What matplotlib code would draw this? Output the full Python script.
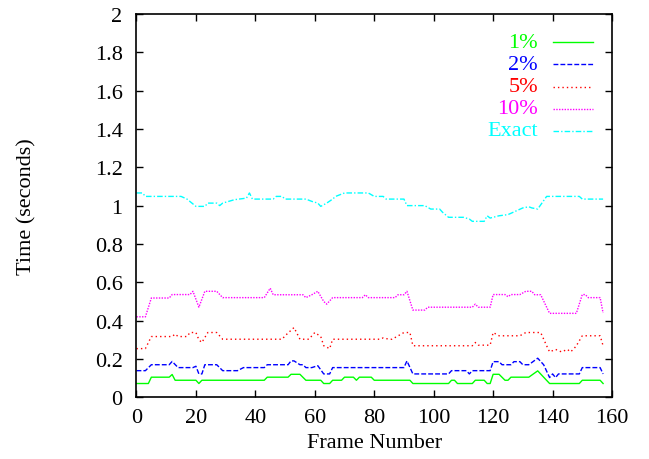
import matplotlib
matplotlib.use("Agg")
import matplotlib.pyplot as plt

# values, as (frame, seconds) vertices of each trace
frames_1 = [0, 4, 5, 11, 12, 13, 20, 21, 22, 43, 44, 51, 52, 55, 57, 62, 63, 65, 66, 69, 70, 73, 74, 75, 79, 80,
            92, 93, 105, 106, 107, 108, 113, 114, 117, 118, 119, 120, 122, 124, 125, 126, 132, 135, 139, 149, 150, 156, 157]
time_1 = [0.072, 0.072, 0.105, 0.105, 0.119, 0.089, 0.089, 0.072, 0.089, 0.089, 0.105, 0.105, 0.120, 0.120, 0.089,
          0.089, 0.072, 0.072, 0.089, 0.089, 0.105, 0.105, 0.089, 0.105, 0.105, 0.089, 0.089, 0.072, 0.072, 0.089,
          0.089, 0.072, 0.072, 0.089, 0.089, 0.072, 0.072, 0.120, 0.120, 0.089, 0.089, 0.105, 0.105, 0.138, 0.072,
          0.072, 0.089, 0.089, 0.072]

frames_2 = [0, 3, 5, 11, 12, 14, 19, 20, 21, 22, 23, 27, 29, 34, 36, 43, 44, 51, 52, 53, 55, 56, 57, 59, 61, 63,
            65, 66, 90, 91, 93, 105, 106, 111, 112, 113, 119, 120, 122, 123, 126, 127, 129, 130, 132, 135, 137, 139,
            140, 141, 142, 149, 150, 156, 157]
time_2 = [0.139, 0.139, 0.170, 0.170, 0.187, 0.155, 0.155, 0.162, 0.122, 0.122, 0.170, 0.170, 0.139, 0.139, 0.155,
          0.155, 0.170, 0.170, 0.190, 0.190, 0.170, 0.170, 0.155, 0.155, 0.165, 0.122, 0.122, 0.155, 0.155, 0.190,
          0.122, 0.122, 0.139, 0.139, 0.122, 0.139, 0.139, 0.186, 0.186, 0.170, 0.170, 0.186, 0.186, 0.170, 0.170,
          0.204, 0.170, 0.103, 0.122, 0.103, 0.122, 0.122, 0.155, 0.155, 0.122]

frames_5 = [0, 3, 5, 12, 13, 14, 17, 18, 20, 21, 22, 24, 27, 29, 49, 50, 53, 55, 58, 60, 62, 63, 65, 66, 82, 83,
            85, 86, 90, 92, 93, 113, 114, 115, 119, 120, 122, 129, 131, 136, 138, 139, 141, 143, 145, 146, 147, 148,
            150, 156, 157]
time_5 = [0.254, 0.254, 0.317, 0.317, 0.330, 0.317, 0.317, 0.338, 0.338, 0.300, 0.286, 0.338, 0.338, 0.303, 0.303,
          0.321, 0.364, 0.303, 0.303, 0.338, 0.317, 0.269, 0.254, 0.303, 0.303, 0.310, 0.303, 0.303, 0.338, 0.338,
          0.269, 0.269, 0.286, 0.272, 0.272, 0.338, 0.321, 0.321, 0.338, 0.338, 0.269, 0.237, 0.250, 0.237, 0.250,
          0.237, 0.250, 0.269, 0.321, 0.321, 0.269]

frames_10 = [0, 3, 5, 11, 12, 18, 19, 21, 23, 27, 29, 43, 45, 46, 56, 57, 59, 61, 63, 64, 66, 76, 77, 78, 87, 88,
             90, 91, 93, 97, 98, 113, 114, 115, 119, 120, 124, 125, 126, 129, 131, 133, 134, 136, 139, 148, 150, 151,
             152, 156, 157]
time_10 = [0.420, 0.420, 0.518, 0.518, 0.536, 0.536, 0.553, 0.470, 0.553, 0.553, 0.520, 0.520, 0.569, 0.535, 0.535,
           0.520, 0.535, 0.553, 0.500, 0.486, 0.520, 0.520, 0.535, 0.520, 0.520, 0.535, 0.535, 0.553, 0.455, 0.455,
           0.470, 0.470, 0.486, 0.470, 0.470, 0.536, 0.536, 0.525, 0.536, 0.536, 0.553, 0.553, 0.535, 0.535, 0.438,
           0.438, 0.536, 0.536, 0.520, 0.520, 0.440]

frames_exact = [0, 2, 3, 15, 17, 20, 23, 24, 27, 28, 29, 31, 33, 37, 38, 39, 46, 47, 49, 50, 57, 59, 61, 62, 64,
                66, 67, 70, 78, 80, 83, 84, 90, 91, 97, 99, 102, 103, 105, 110, 112, 113, 117, 118, 119, 122, 125,
                128, 130, 132, 133, 135, 136, 138, 149, 150, 157]
time_exact = [1.066, 1.066, 1.048, 1.048, 1.034, 0.996, 0.996, 1.013, 1.013, 1.000, 1.013, 1.022, 1.031, 1.039,
              1.066, 1.034, 1.034, 1.048, 1.048, 1.034, 1.034, 1.022, 1.013, 0.996, 1.013, 1.034, 1.048, 1.066,
              1.066, 1.048, 1.048, 1.034, 1.034, 1.000, 1.000, 0.982, 0.982, 0.965, 0.939, 0.939, 0.930, 0.918,
              0.918, 0.947, 0.935, 0.947, 0.953, 0.974, 0.988, 0.994, 0.988, 0.982, 1.004, 1.048, 1.048, 1.034,
              1.034]

labels = ["1%", "2%", "5%", "10%", "Exact"]
colors = ["#00ff00", "#0000ff", "#ff0000", "#ff00ff", "#00ffff"]
styles = ["-", (0, (3.5, 1.5)), (0, (1, 2.2)), (0, (1, 1)), (0, (4, 1.5, 1, 1.5))]
series = [(frames_1, time_1), (frames_2, time_2), (frames_5, time_5),
          (frames_10, time_10), (frames_exact, time_exact)]

plt.rcParams['font.family'] = ['Liberation Serif', 'DejaVu Serif']
plt.rcParams['font.size'] = 16

fig = plt.figure(figsize=(6.49, 4.60), dpi=100)
ax = fig.add_axes([0.2103, 0.1341, 0.7327, 0.8335])

for (fx, fy), lab, col, ls in zip(series, labels, colors, styles):
    ax.plot(fx, fy, color=col, linestyle=ls, linewidth=1.0, label=lab)

ax.set_xlim(0, 160)
ax.set_ylim(0, 2)
ax.set_xticks(range(0, 161, 20))
ax.set_yticks([0, 0.2, 0.4, 0.6, 0.8, 1, 1.2, 1.4, 1.6, 1.8, 2])
ax.set_yticklabels(["0", "0.2", "0.4", "0.6", "0.8", "1", "1.2", "1.4", "1.6", "1.8", "2"])
ax.tick_params(direction="in", length=5, width=1, top=True, right=True)
ax.tick_params(axis="x", pad=8)
ax.tick_params(axis="y", pad=10)
for sp in ax.spines.values():
    sp.set_linewidth(1.2)

ax.set_xlabel("Frame Number", labelpad=4)
ax.set_ylabel("Time (seconds)", labelpad=42)

# gnuplot style key: right aligned text, sample line after it
for i, (lab, col, ls) in enumerate(zip(labels, colors, styles)):
    y = 0.926 - i * 0.0577
    ax.text(0.844, y, lab, color=col, ha="right", va="center", transform=ax.transAxes)
    ax.plot([0.875, 0.961], [y, y], color=col, linestyle=ls, linewidth=1.0,
            transform=ax.transAxes, clip_on=False)

plt.savefig("out.png", dpi=100)
plt.close()
